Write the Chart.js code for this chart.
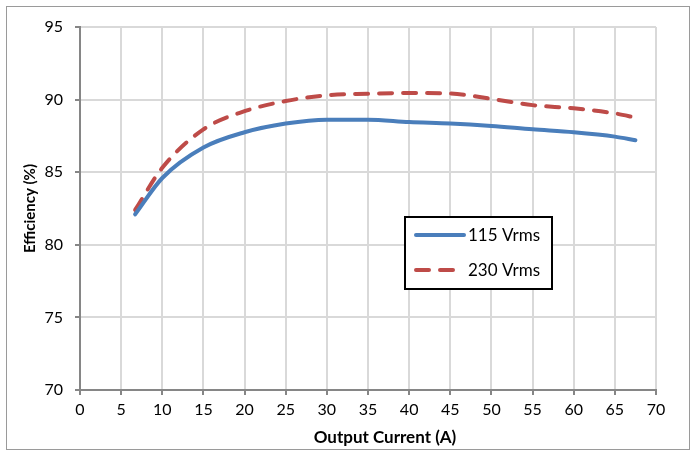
<!DOCTYPE html>
<html>
<head>
<meta charset="UTF-8">
<script src="https://cdn.jsdelivr.net/npm/chart.js@4/dist/chart.umd.min.js"></script>
<style>
  html, body { margin: 0; padding: 0; background: #fff; }
  #wrap { width: 696px; height: 454px; position: relative; }
</style>
</head>
<body>
<div id="wrap"><canvas id="effChart"></canvas></div>
<script>
// values
const current115 = [6.7, 10, 15, 20, 25, 30, 35, 40, 45, 50, 55, 60, 65, 67.5];
const eff115     = [82.1, 84.6, 86.7, 87.75, 88.35, 88.62, 88.62, 88.45, 88.35, 88.18, 87.95, 87.75, 87.45, 87.2];
const current230 = [6.7, 10, 15, 20, 25, 30, 35, 40, 45, 50, 55, 60, 65, 67.6];
const eff230     = [82.4, 85.3, 87.95, 89.2, 89.9, 90.3, 90.4, 90.46, 90.42, 90.05, 89.62, 89.4, 89.05, 88.75];
const seriesLabels = ['115 Vrms', '230 Vrms'];
const xTitle = 'Output Current (A)';
const yTitle = 'Efficiency (%)';
const xTicks = [0, 70, 5];   // min, max, step
const yTicks = [70, 95, 5];

const toPts = (xs, ys) => xs.map((x, i) => ({ x: x, y: ys[i] }));
const FONT = 'Lato, "Open Sans", sans-serif';

// outer frame, x title (sits a bit right of centre) and the in-plot legend box
const framePlugin = {
  id: 'frame',
  beforeDraw(chart) {
    const c = chart.ctx;
    c.save();
    c.fillStyle = '#fff';
    c.fillRect(0, 0, chart.width, chart.height);
    c.strokeStyle = '#9a9a9a';
    c.lineWidth = 1;
    c.strokeRect(6.5, 6.5, 683, 443);
    c.fillStyle = '#000';
    c.font = 'bold 17px ' + FONT;
    c.textAlign = 'center';
    c.textBaseline = 'middle';
    c.fillText(xTitle, 385, 438);
    c.restore();
  },
  afterDatasetsDraw(chart) {
    const c = chart.ctx;
    c.save();
    c.fillStyle = '#fff';
    c.fillRect(405, 217, 147, 72);
    c.strokeStyle = '#000';
    c.lineWidth = 2;
    c.strokeRect(405, 217, 147, 72);
    chart.data.datasets.forEach((ds, i) => {
      const y = 235 + i * 35;
      c.beginPath();
      c.strokeStyle = ds.borderColor;
      c.lineWidth = ds.borderWidth;
      c.lineCap = 'round';
      c.setLineDash(ds.borderDash || []);
      c.moveTo(416, y);
      c.lineTo(464, y);
      c.stroke();
      c.setLineDash([]);
      c.fillStyle = '#000';
      c.font = '17px ' + FONT;
      c.textBaseline = 'middle';
      c.fillText(ds.label, 468, y + 1);
    });
    c.restore();
  }
};

new Chart(document.getElementById('effChart').getContext('2d'), {
  type: 'line',
  data: {
    datasets: [{
      label: seriesLabels[0],
      data: toPts(current115, eff115),
      borderColor: '#4a7ebb',
      borderWidth: 4,
      borderCapStyle: 'round',
      pointRadius: 0,
      cubicInterpolationMode: 'monotone'
    }, {
      label: seriesLabels[1],
      data: toPts(current230, eff230),
      borderColor: '#be4b48',
      borderWidth: 4,
      borderDash: [13, 11],
      borderCapStyle: 'round',
      pointRadius: 0,
      cubicInterpolationMode: 'monotone'
    }]
  },
  options: {
    responsive: true,
    maintainAspectRatio: false,
    animation: false,
    layout: { padding: { left: 0, right: 40, top: 27, bottom: 4 } },
    plugins: {
      legend: { display: false },
      tooltip: { enabled: false }
    },
    scales: {
      x: {
        type: 'linear',
        min: xTicks[0], max: xTicks[1],
        afterFit: s => { s.height = 60; },
        ticks: { stepSize: xTicks[2], color: '#000', padding: 5, font: { family: FONT, size: 16 }, maxRotation: 0 },
        grid: { color: '#d9d9d9', lineWidth: 2, tickColor: '#868686', tickLength: 5, drawOnChartArea: true },
        border: { color: '#868686', width: 2 }
      },
      y: {
        min: yTicks[0], max: yTicks[1],
        afterFit: s => { s.width = 80; },
        ticks: { stepSize: yTicks[2], color: '#000', padding: 12, font: { family: FONT, size: 16 } },
        grid: { color: '#d9d9d9', lineWidth: 2, tickColor: '#868686', tickLength: 5 },
        border: { color: '#868686', width: 2 },
        title: { display: true, text: yTitle, color: '#000', padding: { top: 21, bottom: 4 }, font: { family: FONT, size: 15, weight: 'bold' } }
      }
    }
  },
  plugins: [framePlugin]
});
</script>
</body>
</html>
